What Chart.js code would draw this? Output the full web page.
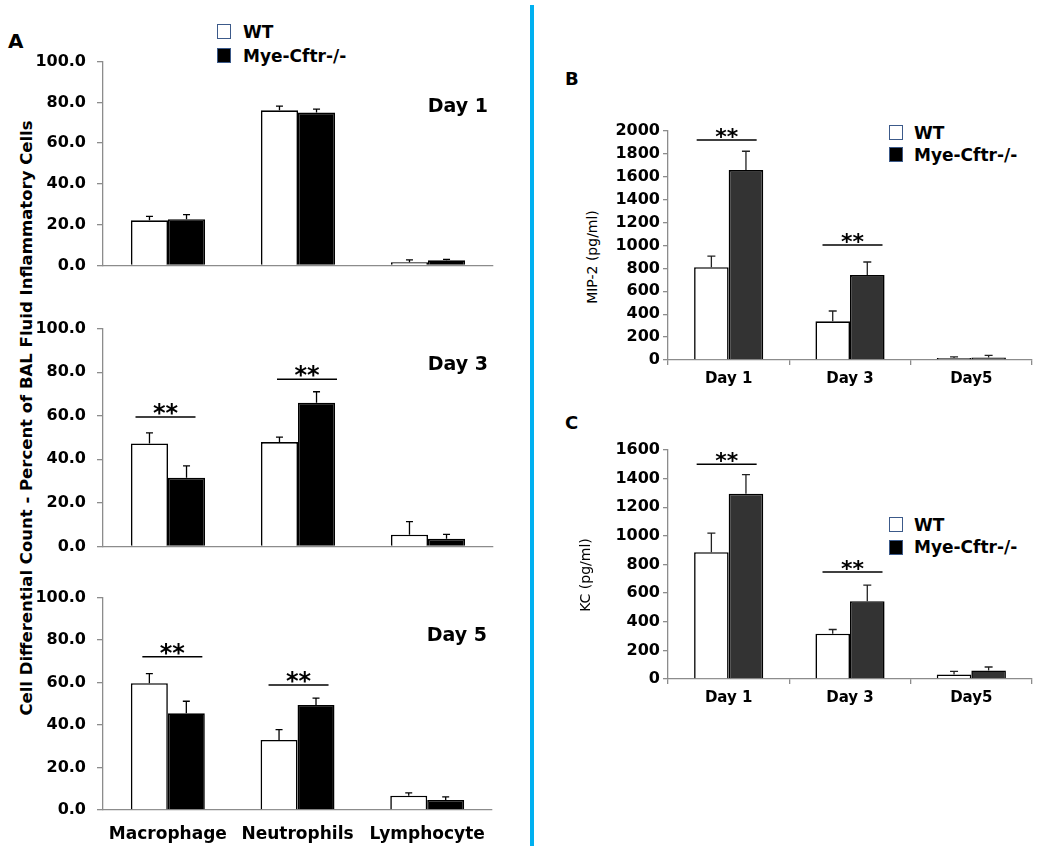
<!DOCTYPE html>
<html>
<head>
<meta charset="utf-8">
<script src="https://cdn.jsdelivr.net/npm/chart.js@4.4.1/dist/chart.umd.min.js"></script>
<style>
  body { margin: 0; background: #fff; }
  #page { position: relative; width: 1050px; height: 846px; overflow: hidden; font-family: 'DejaVu Sans', sans-serif; color: #000; }
  canvas { position: absolute; }
  .txt { position: absolute; white-space: nowrap; font-weight: bold; }
  .sq { position: absolute; width: 12px; height: 13px; border: 1.5px solid #3c5a8a; }
  .rot { position: absolute; width: 700px; height: 20px; line-height: 20px; text-align: center; transform: rotate(-90deg); white-space: nowrap; }
  #divider { position: absolute; left: 530px; top: 5px; width: 4px; height: 841px; background: #00b0f0; }
</style>
</head>
<body>
<div id="page">
  <div id="divider"></div>

  <!-- panel A -->
  <div class="txt" style="left:8px;top:31px;font-size:20px;line-height:20px;">A</div>
  <div class="sq" style="left:217px;top:24px;background:#fff;"></div>
  <div class="txt" style="left:243px;top:24px;font-size:17px;line-height:17px;">WT</div>
  <div class="sq" style="left:217px;top:48px;background:#000;"></div>
  <div class="txt" style="left:243px;top:48px;font-size:17px;line-height:17px;">Mye-Cftr-/-</div>
  <div class="rot" style="left:-323px;top:408px;font-size:16.5px;font-weight:bold;">Cell Differential Count - Percent of BAL Fluid Inflammatory Cells</div>
  <canvas id="day1" width="470" height="245" style="left:30px;top:41px;"></canvas>
  <canvas id="day3" width="470" height="259" style="left:30px;top:308px;"></canvas>
  <canvas id="day5" width="470" height="269" style="left:30px;top:577px;"></canvas>

  <!-- panel B -->
  <div class="txt" style="left:565px;top:70px;font-size:18px;line-height:18px;">B</div>
  <div class="sq" style="left:889px;top:125px;background:#fff;"></div>
  <div class="txt" style="left:914px;top:125px;font-size:17px;line-height:17px;">WT</div>
  <div class="sq" style="left:889px;top:147px;background:#000;"></div>
  <div class="txt" style="left:914px;top:147px;font-size:17px;line-height:17px;">Mye-Cftr-/-</div>
  <div class="rot" style="left:242px;top:247px;font-size:14px;">MIP-2 (pg/ml)</div>
  <canvas id="mip2" width="450" height="289" style="left:590px;top:111px;"></canvas>

  <!-- panel C -->
  <div class="txt" style="left:565px;top:414px;font-size:18px;line-height:18px;">C</div>
  <div class="sq" style="left:889px;top:517px;background:#fff;"></div>
  <div class="txt" style="left:914px;top:517px;font-size:17px;line-height:17px;">WT</div>
  <div class="sq" style="left:889px;top:540px;background:#000;"></div>
  <div class="txt" style="left:914px;top:539px;font-size:17px;line-height:17px;">Mye-Cftr-/-</div>
  <div class="rot" style="left:235px;top:565px;font-size:14px;">KC (pg/ml)</div>
  <canvas id="kc" width="450" height="289" style="left:590px;top:430px;"></canvas>
</div>

<script>
// ---------- data ----------
const cellTypes = ["Macrophage", "Neutrophils", "Lymphocyte"];
const days = ["Day 1", "Day 3", "Day5"];

// Panel A: % of BAL cells, mean and SEM
const day1Wt = [22.1, 76.1, 1.6];
const day1WtSem = [2.0, 2.1, 1.1];
const day1Ko = [22.7, 75.0, 2.5];
const day1KoSem = [2.2, 1.7, 0.5];

const day3Wt = [47.3, 47.9, 5.4];
const day3WtSem = [4.8, 2.3, 6.0];
const day3Ko = [31.5, 66.0, 3.5];
const day3KoSem = [5.5, 5.0, 2.0];
const day3Sig = [59.4, 76.7, null];

const day5Wt = [59.7, 33.0, 6.7];
const day5WtSem = [4.5, 4.8, 1.4];
const day5Ko = [45.5, 49.4, 4.7];
const day5KoSem = [5.7, 3.3, 1.5];
const day5Sig = [72.2, 58.9, null];

// Panel B: MIP-2 (pg/ml)
const mip2Wt = [810, 338, 18];
const mip2WtSem = [98, 90, 10];
const mip2Ko = [1659, 742, 22];
const mip2KoSem = [164, 114, 18];
const mip2Sig = [1921, 1004, null];

// Panel C: KC (pg/ml)
const kcWt = [886, 316, 32];
const kcWtSem = [133, 30, 21];
const kcKo = [1295, 544, 60];
const kcKoSem = [133, 112, 24];
const kcSig = [1500, 747, null];

const FONT = "'DejaVu Sans', sans-serif";
const AXIS_GREY = "#8c8c8c";

// error bars, significance brackets and the "Day n" label
const extras = {
  id: "extras",
  afterDatasetsDraw(chart, args, opts) {
    const { ctx } = chart;
    const ys = chart.scales.y;
    const xs = chart.scales.x;
    ctx.save();
    ctx.strokeStyle = opts.errColor || "#000";
    ctx.lineWidth = 1.3;
    chart.data.datasets.forEach((ds, di) => {
      chart.getDatasetMeta(di).data.forEach((bar, i) => {
        const top = ys.getPixelForValue(ds.data[i] + ds.sem[i]);
        ctx.beginPath();
        ctx.moveTo(bar.x, bar.y);
        ctx.lineTo(bar.x, top);
        ctx.moveTo(bar.x - opts.cap / 2, top);
        ctx.lineTo(bar.x + opts.cap / 2, top);
        ctx.stroke();
      });
    });

    if (opts.sig) {
      ctx.strokeStyle = "#000";
      ctx.fillStyle = "#000";
      ctx.lineWidth = 1.5;
      ctx.font = "bold " + opts.starSize + "px " + FONT;
      ctx.textAlign = "center";
      ctx.textBaseline = "alphabetic";
      opts.sig.forEach((v, i) => {
        if (v == null) return;
        const xc = xs.getPixelForValue(i) + opts.sigShift[i];
        const yl = ys.getPixelForValue(v);
        ctx.beginPath();
        ctx.moveTo(xc - opts.sigHalf, yl);
        ctx.lineTo(xc + opts.sigHalf, yl);
        ctx.stroke();
        const m = ctx.measureText("**");
        ctx.fillText("**", xc, yl - 2 - m.actualBoundingBoxDescent);
      });
    }

    if (opts.label) {
      ctx.fillStyle = "#000";
      ctx.font = "bold 19px " + FONT;
      ctx.textAlign = "right";
      ctx.textBaseline = "middle";
      ctx.fillText(opts.label, chart.chartArea.right - 5, chart.chartArea.top + opts.labelDy);
    }
    ctx.restore();
  },
};

function barChart(id, cfg) {
  return new Chart(document.getElementById(id), {
    type: "bar",
    data: {
      labels: cfg.labels,
      datasets: [
        {
          label: "WT",
          data: cfg.wt,
          sem: cfg.wtSem,
          backgroundColor: "#ffffff",
          borderColor: "#000",
          borderWidth: 1.6,
          categoryPercentage: 0.57,
          barPercentage: 1.0,
        },
        {
          label: "Mye-Cftr-/-",
          data: cfg.ko,
          sem: cfg.koSem,
          backgroundColor: cfg.koColor,
          borderColor: "#000",
          borderWidth: 1.6,
          categoryPercentage: 0.57,
          barPercentage: 1.0,
        },
      ],
    },
    plugins: [extras],
    options: {
      responsive: false,
      animation: false,
      layout: { padding: { top: 20, right: cfg.padRight, left: 0, bottom: 0 } },
      plugins: {
        legend: { display: false },
        tooltip: { enabled: false },
        extras: cfg.extras,
      },
      scales: {
        x: {
          afterFit: (s) => { s.height = cfg.xh; },
          border: { color: AXIS_GREY, width: 1.3 },
          grid: { drawOnChartArea: false, drawTicks: cfg.xTicks, tickLength: 5, color: AXIS_GREY, lineWidth: 1.3 },
          ticks: {
            display: cfg.showX,
            color: "#000",
            padding: cfg.xPad,
            font: { family: FONT, size: cfg.xFont, weight: "bold" },
          },
        },
        y: {
          min: 0,
          max: cfg.max,
          afterFit: (s) => { s.width = cfg.yw; },
          border: { color: AXIS_GREY, width: 1.3 },
          grid: { drawOnChartArea: false, drawTicks: true, tickLength: cfg.yTick, color: AXIS_GREY, lineWidth: 1.3 },
          ticks: {
            stepSize: cfg.step,
            color: "#000",
            padding: cfg.yPad,
            font: { family: FONT, size: cfg.yFont, weight: "bold" },
            callback: cfg.fmt,
          },
        },
      },
    },
  });
}

const panelA = {
  labels: cellTypes, koColor: "#000000", max: 100, step: 20,
  fmt: (v) => Number(v).toFixed(1),
  yw: 73, padRight: 7, yTick: 6, yPad: 11, yFont: 16,
  xFont: 17, xTicks: false,
};

barChart("day1", Object.assign({}, panelA, {
  wt: day1Wt, wtSem: day1WtSem, ko: day1Ko, koSem: day1KoSem,
  xh: 12, showX: false, xPad: 0,
  extras: { cap: 7, label: "Day 1", labelDy: 45 },
}));

barChart("day3", Object.assign({}, panelA, {
  wt: day3Wt, wtSem: day3WtSem, ko: day3Ko, koSem: day3KoSem,
  xh: 12, showX: false, xPad: 0,
  extras: { cap: 7, label: "Day 3", labelDy: 36.5, sig: day3Sig, sigShift: [-2.5, 9, 0], sigHalf: 30, starSize: 24 },
}));

barChart("day5", Object.assign({}, panelA, {
  wt: day5Wt, wtSem: day5WtSem, ko: day5Ko, koSem: day5KoSem,
  xh: 36, showX: true, xPad: 14,
  extras: { cap: 7, label: "Day 5", labelDy: 38, sig: day5Sig, sigShift: [4.5, 1, 0], sigHalf: 30, starSize: 24 },
}));

const panelBC = {
  labels: days, koColor: "#333333", step: 200,
  fmt: (v) => v,
  yw: 78, padRight: 8, yTick: 5, yPad: 3, yFont: 16,
  xFont: 15, xTicks: true, xh: 40, showX: true, xPad: 5,
};

barChart("mip2", Object.assign({}, panelBC, {
  max: 2000,
  wt: mip2Wt, wtSem: mip2WtSem, ko: mip2Ko, koSem: mip2KoSem,
  extras: { cap: 8, errColor: "#222", sig: mip2Sig, sigShift: [-2, 2.5, 0], sigHalf: 30, starSize: 22 },
}));

barChart("kc", Object.assign({}, panelBC, {
  max: 1600,
  wt: kcWt, wtSem: kcWtSem, ko: kcKo, koSem: kcKoSem,
  extras: { cap: 8, errColor: "#222", sig: kcSig, sigShift: [-2, 2.5, 0], sigHalf: 30, starSize: 22 },
}));
</script>
</body>
</html>
